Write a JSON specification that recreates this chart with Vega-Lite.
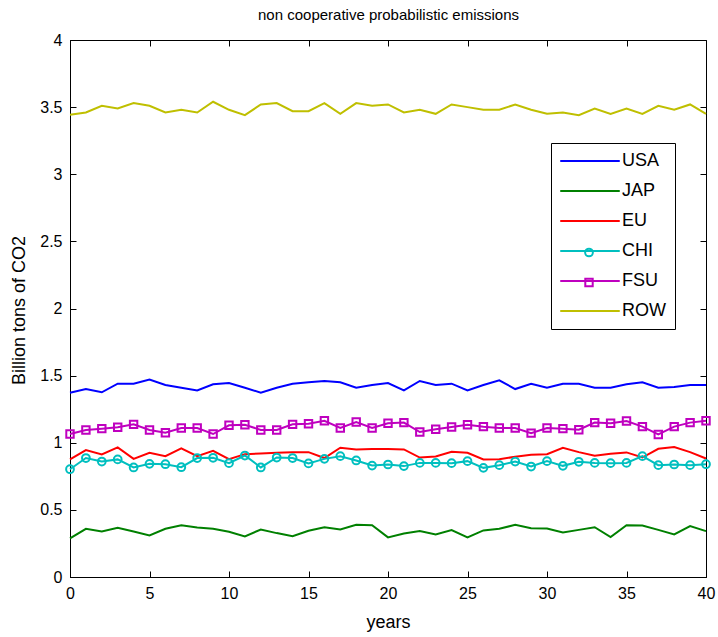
{
  "$schema": "https://vega.github.io/schema/vega-lite/v6.json",
  "autosize": {"type": "none"},
  "padding": {"left": 70, "top": 40, "right": 12, "bottom": 60},
  "width": 636,
  "height": 537,
  "background": "white",
  "config": {
    "view": {"stroke": "black", "strokeWidth": 1},
    "axis": {"grid": false, "domainColor": "black", "tickColor": "black", "labelColor": "black", "titleColor": "black", "labelFont": "Liberation Sans", "titleFont": "Liberation Sans", "labelFontSize": 16, "titleFontSize": 18, "titleFontWeight": "normal", "tickSize": -6, "labelPadding": 14, "labelFlush": false, "labelOverlap": false},
    "legend": {"labelFont": "Liberation Sans"}
  },
  "data": {"values": [
    {"year":0,"USA":1.373,"JAP":0.287,"EU":0.876,"CHI":0.803,"FSU":1.065,"ROW":3.444},
    {"year":1,"USA":1.40,"JAP":0.359,"EU":0.945,"CHI":0.886,"FSU":1.095,"ROW":3.46},
    {"year":2,"USA":1.376,"JAP":0.339,"EU":0.913,"CHI":0.86,"FSU":1.105,"ROW":3.51},
    {"year":3,"USA":1.44,"JAP":0.366,"EU":0.965,"CHI":0.876,"FSU":1.115,"ROW":3.49},
    {"year":4,"USA":1.44,"JAP":0.339,"EU":0.88,"CHI":0.816,"FSU":1.137,"ROW":3.53},
    {"year":5,"USA":1.47,"JAP":0.309,"EU":0.925,"CHI":0.843,"FSU":1.095,"ROW":3.51},
    {"year":6,"USA":1.43,"JAP":0.359,"EU":0.90,"CHI":0.84,"FSU":1.075,"ROW":3.46},
    {"year":7,"USA":1.41,"JAP":0.386,"EU":0.958,"CHI":0.818,"FSU":1.11,"ROW":3.48},
    {"year":8,"USA":1.39,"JAP":0.369,"EU":0.90,"CHI":0.886,"FSU":1.11,"ROW":3.46},
    {"year":9,"USA":1.435,"JAP":0.359,"EU":0.94,"CHI":0.888,"FSU":1.065,"ROW":3.54},
    {"year":10,"USA":1.445,"JAP":0.337,"EU":0.878,"CHI":0.848,"FSU":1.13,"ROW":3.48},
    {"year":11,"USA":1.41,"JAP":0.302,"EU":0.915,"CHI":0.905,"FSU":1.134,"ROW":3.44},
    {"year":12,"USA":1.373,"JAP":0.354,"EU":0.92,"CHI":0.816,"FSU":1.095,"ROW":3.52},
    {"year":13,"USA":1.41,"JAP":0.327,"EU":0.925,"CHI":0.89,"FSU":1.095,"ROW":3.53},
    {"year":14,"USA":1.44,"JAP":0.304,"EU":0.93,"CHI":0.886,"FSU":1.137,"ROW":3.47},
    {"year":15,"USA":1.45,"JAP":0.344,"EU":0.93,"CHI":0.846,"FSU":1.142,"ROW":3.47},
    {"year":16,"USA":1.46,"JAP":0.371,"EU":0.886,"CHI":0.88,"FSU":1.164,"ROW":3.53},
    {"year":17,"USA":1.45,"JAP":0.354,"EU":0.963,"CHI":0.90,"FSU":1.11,"ROW":3.45},
    {"year":18,"USA":1.41,"JAP":0.389,"EU":0.95,"CHI":0.868,"FSU":1.154,"ROW":3.53},
    {"year":19,"USA":1.43,"JAP":0.386,"EU":0.953,"CHI":0.83,"FSU":1.11,"ROW":3.51},
    {"year":20,"USA":1.445,"JAP":0.295,"EU":0.953,"CHI":0.838,"FSU":1.145,"ROW":3.52},
    {"year":21,"USA":1.39,"JAP":0.324,"EU":0.95,"CHI":0.826,"FSU":1.15,"ROW":3.46},
    {"year":22,"USA":1.46,"JAP":0.342,"EU":0.89,"CHI":0.85,"FSU":1.08,"ROW":3.48},
    {"year":23,"USA":1.43,"JAP":0.317,"EU":0.898,"CHI":0.85,"FSU":1.10,"ROW":3.45},
    {"year":24,"USA":1.44,"JAP":0.349,"EU":0.933,"CHI":0.848,"FSU":1.117,"ROW":3.52},
    {"year":25,"USA":1.39,"JAP":0.295,"EU":0.925,"CHI":0.863,"FSU":1.134,"ROW":3.50},
    {"year":26,"USA":1.43,"JAP":0.347,"EU":0.876,"CHI":0.813,"FSU":1.12,"ROW":3.48},
    {"year":27,"USA":1.465,"JAP":0.359,"EU":0.878,"CHI":0.833,"FSU":1.11,"ROW":3.48},
    {"year":28,"USA":1.40,"JAP":0.389,"EU":0.895,"CHI":0.86,"FSU":1.11,"ROW":3.52},
    {"year":29,"USA":1.44,"JAP":0.364,"EU":0.91,"CHI":0.823,"FSU":1.072,"ROW":3.48},
    {"year":30,"USA":1.41,"JAP":0.361,"EU":0.915,"CHI":0.863,"FSU":1.11,"ROW":3.45},
    {"year":31,"USA":1.44,"JAP":0.332,"EU":0.963,"CHI":0.828,"FSU":1.105,"ROW":3.46},
    {"year":32,"USA":1.44,"JAP":0.351,"EU":0.93,"CHI":0.858,"FSU":1.097,"ROW":3.44},
    {"year":33,"USA":1.41,"JAP":0.371,"EU":0.903,"CHI":0.85,"FSU":1.15,"ROW":3.49},
    {"year":34,"USA":1.41,"JAP":0.297,"EU":0.918,"CHI":0.848,"FSU":1.145,"ROW":3.45},
    {"year":35,"USA":1.435,"JAP":0.386,"EU":0.928,"CHI":0.85,"FSU":1.162,"ROW":3.49},
    {"year":36,"USA":1.45,"JAP":0.384,"EU":0.89,"CHI":0.90,"FSU":1.12,"ROW":3.45},
    {"year":37,"USA":1.41,"JAP":0.351,"EU":0.955,"CHI":0.833,"FSU":1.062,"ROW":3.51},
    {"year":38,"USA":1.415,"JAP":0.317,"EU":0.968,"CHI":0.838,"FSU":1.12,"ROW":3.48},
    {"year":39,"USA":1.43,"JAP":0.379,"EU":0.93,"CHI":0.833,"FSU":1.15,"ROW":3.52},
    {"year":40,"USA":1.43,"JAP":0.342,"EU":0.883,"CHI":0.84,"FSU":1.164,"ROW":3.45}
  ]},
  "transform": [{"fold": ["USA", "JAP", "EU", "CHI", "FSU", "ROW"], "as": ["series", "value"]}],
  "resolve": {"axis": {"x": "independent", "y": "independent"}, "scale": {"shape": "independent"}, "legend": {"shape": "independent"}},
  "layer": [
    {
      "mark": {"type": "line", "strokeWidth": 2},
      "encoding": {
        "x": {"field": "year", "type": "quantitative", "scale": {"domain": [0, 40], "nice": false}, "axis": {"orient": "bottom", "values": [0,5,10,15,20,25,30,35,40], "title": "years", "titleX": 318, "titleY": 45, "titleBaseline": "middle", "labelBaseline": "top"}},
        "y": {"field": "value", "type": "quantitative", "scale": {"domain": [0, 4], "nice": false}, "axis": {"orient": "left", "values": [0,0.5,1,1.5,2,2.5,3,3.5,4], "format": "~g", "title": "Billion tons of CO2", "titleX": -51, "titleY": 270, "titleAngle": -90, "titleAlign": "center", "titleBaseline": "middle"}},
        "color": {"field": "series", "type": "nominal",
          "scale": {"domain": ["USA", "JAP", "EU", "CHI", "FSU", "ROW"], "range": ["#0000ff", "#008000", "#ff0000", "#00bfbf", "#bf00bf", "#bfbf00"]},
          "legend": {"orient": "none", "legendX": 481, "legendY": 103, "title": null, "strokeColor": "black", "fillColor": "white", "padding": 9, "labelFontSize": 18, "labelColor": "black", "symbolType": "M-4.5,0H4.5", "symbolSize": 175, "symbolStrokeWidth": 2, "symbolOffset": 21, "labelOffset": 23, "rowPadding": 12}
        },
        "order": {"field": "year", "type": "quantitative"}
      }
    },
    {
      "transform": [{"filter": {"field": "series", "equal": "CHI"}}],
      "mark": {"type": "point", "filled": false, "strokeWidth": 2, "size": 60, "opacity": 1, "color": "#00bfbf"},
      "encoding": {
        "x": {"field": "year", "type": "quantitative", "axis": {"orient": "top", "values": [0,5,10,15,20,25,30,35,40], "labels": false, "domain": false, "title": "non cooperative probabilistic emissions", "titleX": 318, "titleY": -26, "titleBaseline": "middle", "titleAlign": "center", "titleFontSize": 15}},
        "y": {"field": "value", "type": "quantitative", "axis": {"orient": "right", "values": [0,0.5,1,1.5,2,2.5,3,3.5,4], "labels": false, "title": null, "domain": false}},
        "shape": {"field": "series", "type": "nominal", "scale": {"domain": ["CHI"], "range": ["circle"]},
          "legend": {"orient": "none", "legendX": 514, "legendY": 207.5, "title": null, "padding": 0, "labelExpr": "''", "labelFontSize": 8, "symbolSize": 60, "symbolStrokeWidth": 2, "symbolStrokeColor": "#00bfbf", "symbolFillColor": "transparent", "symbolOpacity": 1}}
      }
    },
    {
      "transform": [{"filter": {"field": "series", "equal": "FSU"}}],
      "mark": {"type": "point", "filled": false, "strokeWidth": 2, "size": 55, "opacity": 1, "color": "#bf00bf"},
      "encoding": {
        "x": {"field": "year", "type": "quantitative", "axis": null},
        "y": {"field": "value", "type": "quantitative", "axis": null},
        "shape": {"field": "series", "type": "nominal", "scale": {"domain": ["FSU"], "range": ["square"]},
          "legend": {"orient": "none", "legendX": 514, "legendY": 237.5, "title": null, "padding": 0, "labelExpr": "''", "labelFontSize": 8, "symbolSize": 55, "symbolStrokeWidth": 2, "symbolStrokeColor": "#bf00bf", "symbolFillColor": "transparent", "symbolOpacity": 1}}
      }
    }
  ]
}
